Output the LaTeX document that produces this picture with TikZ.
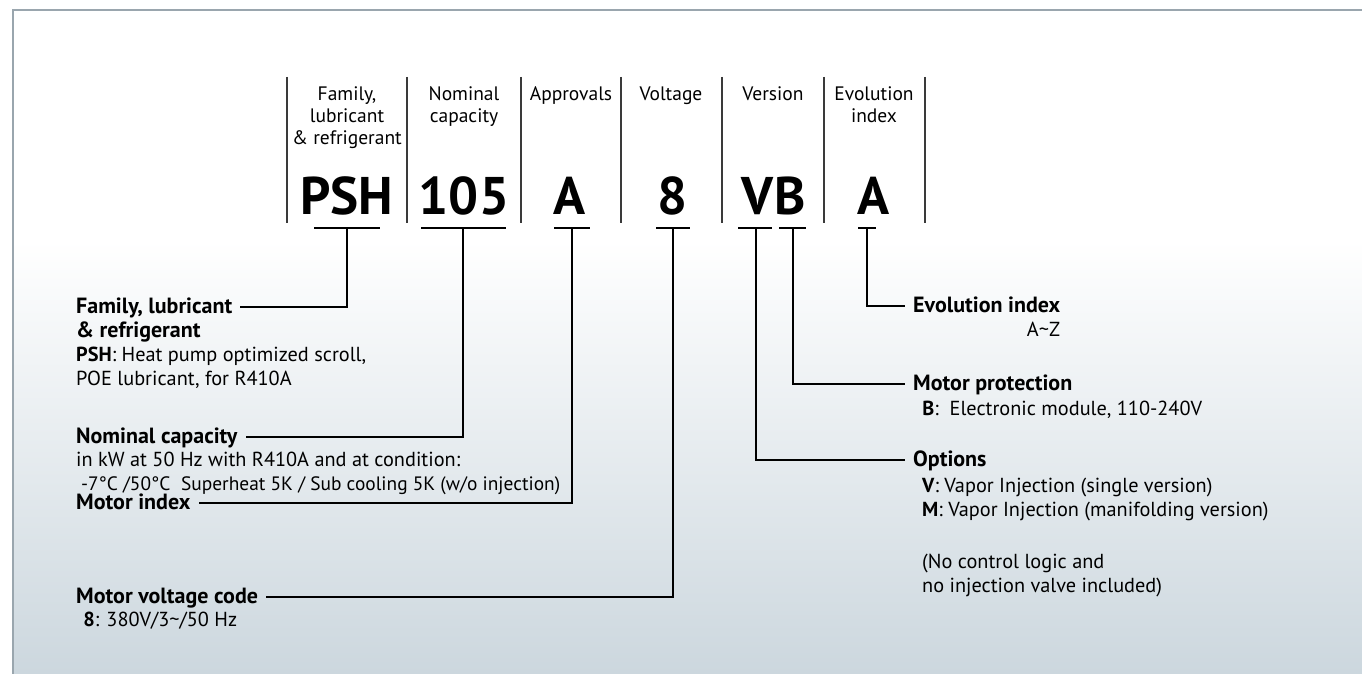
\documentclass[tikz,border=0pt]{standalone}
\usepackage{fontspec}
\setmainfont{PT Sans}
\usetikzlibrary{positioning}
\definecolor{frameGrey}{HTML}{9AA6AE}
\definecolor{shadeBlue}{HTML}{CCD7DE}
\definecolor{rulerGrey}{HTML}{3A3A3A}

\begin{document}
\begin{tikzpicture}[x=1pt, y=-1pt,
    head/.style={anchor=base, align=center, inner sep=0pt, font=\fontsize{19.5}{22}\selectfont},
    code/.style={anchor=base, inner sep=0pt, font=\fontsize{53}{53}\selectfont\bfseries},
    title/.style={anchor=base west, inner xsep=8pt, inner ysep=0pt, text height=16pt, text depth=4pt,
                  font=\fontsize{22}{24}\selectfont\bfseries},
    desc/.style={align=left, inner xsep=8pt, inner ysep=0pt, font=\fontsize{20.3}{24}\selectfont},
    lead/.style={line width=2pt},
    bar/.style={line width=2pt},
    sep/.style={rulerGrey, line width=1.4pt}]
    \useasboundingbox (0,0) rectangle (1362,674);
    \fill[white] (0,0) rectangle (1362,674);
    \shade[top color=white, bottom color=shadeBlue] (13,240) rectangle (1362,674);
    \draw[frameGrey, line width=2pt] (13,674) -- (13,10) -- (1362,10);

    \foreach \x in {287,407,521,621,722,824,925}
      \draw[sep] (\x,77) -- (\x,223);

    \node[head] (hfam) at (347,145) {Family,\\lubricant\\\& refrigerant};
    \node[head] (hcap) at (464,123) {Nominal\\capacity};
    \node[head] (hapr) at (571,101) {Approvals};
    \node[head] (hvol) at (671,101) {Voltage};
    \node[head] (hver) at (773,101) {Version};
    \node[head] (hevo) at (874,123) {Evolution\\index};

    \node[code] (psh) at (347,214) {PSH};
    \node[code] (cap) at (464,214) {105};
    \node[code] (apr) at (570,214) {A};
    \node[code] (vol) at (673,214) {8};
    \node[code, anchor=base east] (verv) at (774,214) {V};
    \node[code, anchor=base west] (verb) at (774,214) {B};
    \node[code] (evo) at (874,214) {A};

    \coordinate (pshbar) at (347,228);
    \coordinate (capbar) at (463,228);
    \coordinate (aprbar) at (572,228);
    \coordinate (volbar) at (673,228);
    \coordinate (vbar) at (756,228);
    \coordinate (bbar) at (793,228);
    \coordinate (evobar) at (867,228);
    \draw[bar] ([xshift=-33pt]pshbar) -- ([xshift=33pt]pshbar);
    \draw[bar] ([xshift=-42pt]capbar) -- ([xshift=43pt]capbar);
    \draw[bar] ([xshift=-18pt]aprbar) -- ([xshift=18pt]aprbar);
    \draw[bar] ([xshift=-17pt]volbar) -- ([xshift=17pt]volbar);
    \draw[bar] ([xshift=-18pt]vbar) -- ([xshift=16pt]vbar);
    \draw[bar] ([xshift=-14pt]bbar) -- ([xshift=13pt]bbar);
    \draw[bar] ([xshift=-9pt]evobar) -- ([xshift=9pt]evobar);

    \node[title] (tfam) at (68,313) {Family, lubricant};
    \node[desc, below=72pt of tfam.base west, anchor=base west] (dfam)
      {{\fontsize{22}{24}\selectfont\bfseries \& refrigerant}\\
       \textbf{PSH}: Heat pump optimized scroll,\\POE lubricant, for R410A};
    \node[title] (tcap) at (68,443) {Nominal capacity};
    \node[desc, below=47pt of tcap.base west, anchor=base west] (dcap)
      {in kW at 50 Hz with R410A and at condition:\\
       {\fontsize{19.4}{24}\selectfont\hspace*{0.25em}-7°C /50°C\hspace{0.55em}Superheat 5K / Sub cooling 5K (w/o injection)}};
    \node[title] (tmot) at (68,509) {Motor index};
    \node[title] (tvol) at (68,603) {Motor voltage code};
    \node[desc, below=23pt of tvol.base west, anchor=base west] (dvol)
      {\hspace*{0.35em}\textbf{8}: 380V/3\textasciitilde/50 Hz};

    \node[title] (tevo) at (905,312) {Evolution index};
    \node[desc, below=24pt of tevo.base east, anchor=base east] (devo) {A\textasciitilde Z};
    \node[title] (tpro) at (905,390) {Motor protection};
    \node[desc, below=25pt of tpro.base west, anchor=base west] (dpro)
      {\hspace*{0.45em}\textbf{B}: \ Electronic module, 110-240V};
    \node[title] (topt) at (905,466) {Options};
    \node[desc, below=126pt of topt.base west, anchor=base west, xshift=9pt] (dopt)
      {\textbf{V}: Vapor Injection (single version)\\
       \textbf{M}: Vapor Injection (manifolding version)\\[28pt]
       (No control logic and\\no injection valve included)};

    \draw[lead] (pshbar) |- (tfam.east);
    \draw[lead] (capbar) |- (tcap.east);
    \draw[lead] (aprbar) |- (tmot.east);
    \draw[lead] (volbar) |- (tvol.east);
    \draw[lead] (vbar) |- (topt.west);
    \draw[lead] (bbar) |- (tpro.west);
    \draw[lead] (evobar) |- (tevo.west);
\end{tikzpicture}
\end{document}
